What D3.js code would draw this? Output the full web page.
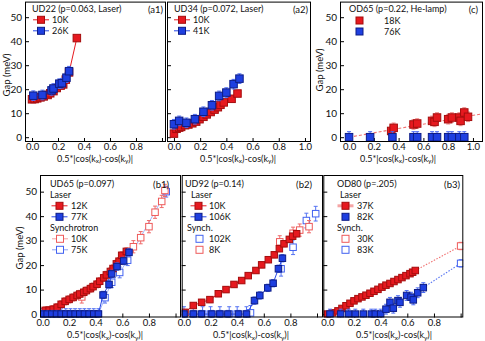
<!DOCTYPE html>
<html>
<head>
<meta charset="utf-8">
<script src="https://cdn.jsdelivr.net/npm/d3@7"></script>
<style>
  body { margin: 0; background: #fff; }
  svg text { font-family: Lato, "Open Sans", sans-serif; fill: #111; }
</style>
</head>
<body>
<svg id="fig" width="485" height="341"></svg>
<script>
// ---- data (gap in meV vs 0.5*|cos kx - cos ky|) ------------------------------
// (a1) UD22
const a1_10K_x = [0.0, 0.02, 0.04, 0.065, 0.09, 0.12, 0.14, 0.165, 0.19, 0.22, 0.24, 0.26, 0.285, 0.345];
const a1_10K_y = [15.8, 15.9, 16.2, 16.6, 17.0, 17.6, 18.3, 19.2, 20.5, 21.5, 22.0, 24.0, 27.0, 41.3];
const a1_26K_x = [0.01, 0.08, 0.15, 0.165, 0.21, 0.23, 0.265, 0.285];
const a1_26K_y = [17.3, 17.6, 19.5, 20.3, 22.3, 22.5, 24.8, 27.5];
// (a2) UD34
const a2_10K_x = [0.0, 0.02, 0.04, 0.055, 0.085, 0.11, 0.14, 0.17, 0.195, 0.225, 0.25, 0.28, 0.31, 0.335, 0.355, 0.38, 0.44, 0.485];
const a2_10K_y = [1.5, 3.5, 4.0, 4.3, 5.0, 5.3, 5.8, 6.5, 7.5, 8.5, 9.5, 10.5, 11.5, 12.5, 13.5, 14.5, 16.0, 18.2];
const a2_41K_x = [0.0, 0.04, 0.095, 0.16, 0.225, 0.29, 0.345, 0.40, 0.455, 0.50];
const a2_41K_y = [5.4, 6.8, 6.0, 7.5, 10.6, 13.3, 17.2, 18.6, 22.1, 24.4];
// (c) OD65
const c_18K_x = [0.34, 0.36, 0.52, 0.55, 0.67, 0.69, 0.71, 0.80, 0.83, 0.89, 0.90, 0.93, 0.96];
const c_18K_y = [2.6, 3.9, 5.3, 5.7, 6.8, 6.4, 8.2, 7.5, 8.2, 8.2, 6.8, 10.3, 8.5];
const c_76K_x = [0.0, 0.17, 0.35, 0.52, 0.55, 0.67, 0.71, 0.80, 0.83, 0.89, 0.93];
const c_76K_y = [0, 0, 0, 0, 0, 0, 0, 0, 0, 0, 0];
const c_fit_x = [0.0, 1.08];
const c_fit_y = [0.0, 9.8];
// (b1) UD65
const b1_12K_x = [0.02, 0.05, 0.08, 0.11, 0.14, 0.17, 0.2, 0.23, 0.26, 0.28, 0.31, 0.33, 0.36, 0.38, 0.41, 0.43, 0.46, 0.48, 0.51, 0.53, 0.555, 0.575, 0.595, 0.63];
const b1_12K_y = [1.5, 1.6, 2.0, 2.8, 4.0, 5.2, 6.0, 6.8, 7.6, 8.2, 8.9, 9.6, 10.4, 11.2, 12.2, 13.4, 14.8, 16.0, 17.4, 18.6, 20.5, 21.6, 24.0, 25.6];
const b1_77K_x = [0.0, 0.035, 0.07, 0.105, 0.14, 0.175, 0.21, 0.245, 0.28, 0.315, 0.35, 0.385, 0.42, 0.455, 0.50, 0.52, 0.56, 0.61, 0.65];
const b1_77K_y = [0, 0, 0, 0, 0, 0, 0, 0, 0, 0, 0, 0, 0, 7.8, 12.1, 16.4, 19.4, 21.7, 25.2];
const b1_10K_x = [0.295, 0.683, 0.738, 0.80, 0.846, 0.896, 0.92];
const b1_10K_y = [7.0, 27.5, 31.2, 35.7, 41.6, 46.0, 50.5];
const b1_75K_x = [0.0, 0.035, 0.07, 0.105, 0.14, 0.175, 0.21, 0.245, 0.28, 0.315, 0.35, 0.385, 0.42, 0.47, 0.52, 0.58, 0.64, 0.93];
const b1_75K_y = [0, 0, 0, 0, 0, 0, 0, 0, 0, 0, 0, 0, 0, 6.7, 13.0, 17.0, 22.0, 50.0];
// (b2) UD92
const b2_10K_x = [0.008, 0.07, 0.133, 0.195, 0.258, 0.316, 0.376, 0.434, 0.483, 0.541, 0.584, 0.634, 0.679, 0.717, 0.752, 0.792, 0.817, 0.847];
const b2_10K_y = [0.7, 3.5, 4.8, 5.9, 8.3, 10.0, 12.1, 13.7, 15.7, 17.8, 20.1, 22.2, 24.2, 26.7, 28.7, 30.5, 31.8, 32.8];
const b2_106K_x = [0.0, 0.07, 0.13, 0.21, 0.27, 0.33, 0.41, 0.47, 0.53, 0.57, 0.63, 0.67, 0.71, 0.74];
const b2_106K_y = [0, 0, 0, 0, 0, 0, 0, 0, 5.5, 7.6, 10.7, 12.6, 18.5, 22.8];
const b2_102K_x = [0.0, 0.07, 0.14, 0.2, 0.27, 0.34, 0.4, 0.47, 0.5, 0.73, 0.82, 0.92, 0.99];
const b2_102K_y = [0, 0, 0, 0, 0, 0, 0, 0, 0.5, 18.5, 27.3, 38.2, 41.0];
const b2_8K_x = [0.72, 0.82, 0.87, 0.94];
const b2_8K_y = [29.5, 33.0, 34.3, 35.7];
// (b3) OD80
const b3_37K_x = [0.0, 0.04, 0.08, 0.11, 0.14, 0.17, 0.2, 0.23, 0.26, 0.29, 0.32, 0.35, 0.38, 0.41, 0.44, 0.47, 0.5, 0.53, 0.56, 0.59, 0.62, 0.64, 0.66];
const b3_37K_y = [0.0, 0.5, 1.3, 2.3, 3.4, 4.4, 5.4, 6.3, 7.0, 7.7, 8.5, 9.3, 10.1, 11.0, 11.8, 12.5, 13.3, 14.1, 14.9, 15.7, 16.5, 17.1, 17.8];
const b3_82K_x = [0.02, 0.1, 0.16, 0.21, 0.27, 0.33, 0.36, 0.40, 0.44, 0.47, 0.495, 0.53, 0.545, 0.595, 0.628, 0.645, 0.678, 0.72];
const b3_82K_y = [0, 0, 0, 0, 0, 0, 0, 0, 2.0, 4.8, 2.4, 5.5, 4.8, 7.6, 6.9, 5.8, 8.7, 10.8];
const b3_30K_x = [1.0];
const b3_30K_y = [27.8];
const b3_83K_x = [1.0];
const b3_83K_y = [20.7];

const xTicks = [0, 0.2, 0.4, 0.6, 0.8, 1.0];
const yTicks = [0, 10, 20, 30, 40, 50];

// ---- styles ------------------------------------------------------------------
const STY = {
  redF:  { fill: '#e6191f', stroke: '#a50d0d', err: '#f08585', line: '#e6191f' },
  blueF: { fill: '#1e3fe0', stroke: '#0d1c86', err: '#4a69f2', line: '#2748e6' },
  redO:  { fill: '#fff', stroke: '#ee5a5a', err: '#ee6a6a', line: '#f4a0a0' },
  blueO: { fill: '#fff', stroke: '#4262f0', err: '#5573f2', line: '#8aa0f6' }
};
const LEG_FS = 9;

const svg = d3.select('#fig');
const fmt = d3.format('.1f');
let clipN = 0;

// axis title with subscripts, one text element
function xTitle(g, cx, y) {
  const t = g.append('text').attr('x', cx).attr('y', y).attr('text-anchor', 'middle').attr('font-size', 9);
  t.append('tspan').text('0.5*|cos(k');
  t.append('tspan').attr('font-size', 6.5).attr('dy', 1.5).text('x');
  t.append('tspan').attr('dy', -1.5).text(')-cos(k');
  t.append('tspan').attr('font-size', 6.5).attr('dy', 1.5).text('y');
  t.append('tspan').attr('dy', -1.5).text(')|');
}

function drawPanel(p) {
  const g = svg.append('g');
  const x = d3.scaleLinear().domain(p.xDom).range(p.xRange);
  const y = d3.scaleLinear().domain(p.yDom).range(p.yRange);
  const [L, R] = p.xRange, [B, T] = p.yRange;
  g.append('rect').attr('x', L).attr('y', T).attr('width', R - L).attr('height', B - T).attr('fill', '#fff');

  const id = 'clip' + (clipN++);
  g.append('clipPath').attr('id', id).append('rect')
    .attr('x', L).attr('y', T).attr('width', R - L).attr('height', B - T);

  // axes
  const ax = g.append('g').attr('transform', `translate(0,${B})`)
    .call(d3.axisBottom(x).tickValues(xTicks).tickSizeInner(-4).tickSizeOuter(0).tickPadding(p.xPad)
      .tickFormat(d => d <= p.xLabMax + 1e-9 ? fmt(d) : ''));
  ax.select('.domain').remove();
  ax.attr('font-family', null).attr('font-size', 9.5);
  const ay = g.append('g').attr('transform', `translate(${L},0)`)
    .call(d3.axisLeft(y).tickValues(yTicks).tickSizeInner(-4).tickSizeOuter(0).tickPadding(3)
      .tickFormat(d => p.yLabels ? d : ''));
  ay.select('.domain').remove();
  ay.attr('font-family', null).attr('font-size', 10);

  const plot = g.append('g').attr('clip-path', `url(#${id})`);

  (p.fits || []).forEach(f => {
    plot.append('path')
      .attr('d', d3.line().x(d => x(d[0])).y(d => y(d[1]))(d3.zip(f.x, f.y)))
      .attr('fill', 'none').attr('stroke', f.color).attr('stroke-width', 1.1)
      .attr('stroke-dasharray', f.dash);
  });

  p.series.forEach(s => {
    const st = STY[s.style];
    const pts = d3.zip(s.x, s.y);
    if (s.line) {
      plot.append('path')
        .attr('d', d3.line().x(d => x(d[0])).y(d => y(d[1]))(pts))
        .attr('fill', 'none').attr('stroke', s.lineColor || st.line)
        .attr('stroke-width', s.lineWidth || 1).attr('opacity', s.lineOpacity || 1);
    }
    const eg = plot.append('g').attr('stroke', st.err).attr('stroke-width', 1);
    pts.forEach(d => {
      const px = x(d[0]), y0 = y(d[1] - s.err), y1 = y(d[1] + s.err);
      eg.append('line').attr('x1', px).attr('x2', px).attr('y1', y0).attr('y2', y1);
      eg.append('line').attr('x1', px - 2).attr('x2', px + 2).attr('y1', y0).attr('y2', y0);
      eg.append('line').attr('x1', px - 2).attr('x2', px + 2).attr('y1', y1).attr('y2', y1);
    });
    const m = s.size;
    plot.append('g').selectAll('rect').data(pts).join('rect')
      .attr('x', d => x(d[0]) - m / 2).attr('y', d => y(d[1]) - m / 2)
      .attr('width', m).attr('height', m)
      .attr('fill', st.fill).attr('stroke', st.stroke).attr('stroke-width', 1);
  });

  // frame
  g.append('rect').attr('x', L + 0.5).attr('y', T + 0.5).attr('width', R - L - 1).attr('height', B - T - 1)
    .attr('fill', 'none').attr('stroke', '#000').attr('stroke-width', 1);

  // texts
  xTitle(g, p.titleX, p.titleY);
  if (p.yTitle) {
    g.append('text').attr('transform', `translate(${p.yTitle[0]},${p.yTitle[1]}) rotate(-90)`)
      .attr('text-anchor', 'middle').attr('font-size', 9.5).text('Gap (meV)');
  }
  g.append('text').attr('x', p.tag[1]).attr('y', p.tag[2]).attr('text-anchor', 'end')
    .attr('font-size', 9.5).text(p.tag[0]);
  p.legend.forEach(it => {
    g.append('text').attr('x', it.tx).attr('y', it.ty).attr('font-size', LEG_FS).text(it.text);
    if (it.style) {
      const st = STY[it.style];
      if (it.line) {
        g.append('line').attr('x1', it.mx - 8).attr('x2', it.mx + 8).attr('y1', it.my).attr('y2', it.my)
          .attr('stroke', it.lineColor || st.line).attr('stroke-width', it.lineWidth || 1);
      }
      g.append('rect').attr('x', it.mx - 3.5).attr('y', it.my - 3.5).attr('width', 7).attr('height', 7)
        .attr('fill', st.fill).attr('stroke', st.stroke).attr('stroke-width', 1);
    }
  });
}

const topY = { yDom: [-2, 56.5], yRange: [142, 1.6] };
const botY = { yDom: [-1.4, 56.8], yRange: [317.5, 175] };

// ---- top row -----------------------------------------------------------------
drawPanel({
  ...topY, xDom: [-0.054, 1.031], xRange: [25, 166], xPad: 1, xLabMax: 0.8, yLabels: true,
  titleX: 95, titleY: 161.5, yTitle: [10, 75], tag: ['(a1)', 163, 12.5],
  series: [
    { x: a1_10K_x, y: a1_10K_y, style: 'redF', line: true, err: 1.0, size: 7.5 },
    { x: a1_26K_x, y: a1_26K_y, style: 'blueF', line: true, err: 2.0, size: 7.5 }
  ],
  legend: [
    { text: 'UD22 (p=0.063, Laser)', tx: 32, ty: 12 },
    { text: '10K', tx: 52, ty: 23, style: 'redF', mx: 41, my: 19.8, line: true },
    { text: '26K', tx: 52, ty: 34, style: 'blueF', mx: 41, my: 30.8, line: true }
  ]
});
drawPanel({
  ...topY, xDom: [-0.053, 1.046], xRange: [167, 311], xPad: 1, xLabMax: 1.0, yLabels: false,
  titleX: 238, titleY: 161.5, tag: ['(a2)', 308, 12.5],
  series: [
    { x: a2_10K_x, y: a2_10K_y, style: 'redF', line: true, err: 1.2, size: 7.5 },
    { x: a2_41K_x, y: a2_41K_y, style: 'blueF', line: true, err: 2.0, size: 7.5 }
  ],
  legend: [
    { text: 'UD34 (p=0.072, Laser)', tx: 174, ty: 12 },
    { text: '10K', tx: 193, ty: 23, style: 'redF', mx: 182, my: 19.8, line: true },
    { text: '41K', tx: 193, ty: 34, style: 'blueF', mx: 182, my: 30.8, line: true }
  ]
});
drawPanel({
  ...topY, xDom: [-0.073, 1.081], xRange: [340, 483], xPad: 1, xLabMax: 1.0, yLabels: true,
  titleX: 398, titleY: 161.5, yTitle: [323, 70], tag: ['(c)', 478, 12.5],
  fits: [{ x: c_fit_x, y: c_fit_y, color: '#f07070', dash: '3,2' }],
  series: [
    { x: c_18K_x, y: c_18K_y, style: 'redF', line: false, err: 2.0, size: 7.5 },
    { x: c_76K_x, y: c_76K_y, style: 'blueF', line: false, err: 2.3, size: 7.5 }
  ],
  legend: [
    { text: 'OD65 (p=0.22, He-lamp)', tx: 349, ty: 12 },
    { text: '18K', tx: 384, ty: 23.5, style: 'redF', mx: 359.5, my: 20.5 },
    { text: '76K', tx: 384, ty: 34.5, style: 'blueF', mx: 359.5, my: 31.5 }
  ]
});

// ---- bottom row --------------------------------------------------------------
drawPanel({
  ...botY, xDom: [-0.019, 1.041], xRange: [40, 181], xPad: 2, xLabMax: 0.8, yLabels: true,
  titleX: 105, titleY: 338, yTitle: [23, 248], tag: ['(b1)', 169, 187.5],
  series: [
    { x: b1_75K_x, y: b1_75K_y, style: 'blueO', line: true, lineOpacity: 0.8, err: 2.2, size: 6.5 },
    { x: b1_10K_x, y: b1_10K_y, style: 'redO', line: false, err: 2.5, size: 6.5 },
    { x: b1_12K_x, y: b1_12K_y, style: 'redF', line: true, err: 1.5, size: 6.5 },
    { x: b1_77K_x, y: b1_77K_y, style: 'blueF', line: true, err: 1.5, size: 6.5 }
  ],
  legend: [
    { text: 'UD65 (p=0.097)', tx: 50, ty: 187 },
    { text: 'Laser', tx: 50, ty: 198 },
    { text: '12K', tx: 71, ty: 209, style: 'redF', mx: 59.5, my: 205.8, line: true },
    { text: '77K', tx: 71, ty: 220, style: 'blueF', mx: 59.5, my: 216.8, line: true },
    { text: 'Synchrotron', tx: 50, ty: 231 },
    { text: '10K', tx: 71, ty: 242, style: 'redO', mx: 60, my: 238.8, line: true },
    { text: '75K', tx: 71, ty: 253, style: 'blueO', mx: 60, my: 249.8, line: true }
  ]
});
drawPanel({
  ...botY, xDom: [-0.017, 1.045], xRange: [181.7, 323], xPad: 2, xLabMax: 0.8, yLabels: false,
  titleX: 251, titleY: 338, tag: ['(b2)', 312, 187.5],
  series: [
    { x: b2_102K_x, y: b2_102K_y, style: 'blueO', line: false, err: 3.0, size: 6.5 },
    { x: b2_8K_x, y: b2_8K_y, style: 'redO', line: false, err: 2.5, size: 6.5 },
    { x: b2_10K_x, y: b2_10K_y, style: 'redF', line: true, err: 1.2, size: 6.5 },
    { x: b2_106K_x, y: b2_106K_y, style: 'blueF', line: true, err: 1.5, size: 6.5 }
  ],
  legend: [
    { text: 'UD92 (p=0.14)', tx: 185, ty: 187 },
    { text: 'Laser', tx: 191, ty: 198 },
    { text: '10K', tx: 209, ty: 209, style: 'redF', mx: 198.5, my: 205.8, line: true },
    { text: '106K', tx: 209, ty: 220, style: 'blueF', mx: 198.5, my: 216.8, line: true },
    { text: 'Synch.', tx: 187, ty: 231 },
    { text: '102K', tx: 209, ty: 242, style: 'blueO', mx: 199.5, my: 238.8 },
    { text: '8K', tx: 209, ty: 253, style: 'redO', mx: 199.5, my: 249.8 }
  ]
});
drawPanel({
  ...botY, xDom: [-0.03, 1.02], xRange: [323.3, 463.3], xPad: 2, xLabMax: 0.8, yLabels: false,
  titleX: 394, titleY: 338, tag: ['(b3)', 460, 187.5],
  fits: [
    { x: [b3_37K_x[b3_37K_x.length - 1], b3_30K_x[0]], y: [b3_37K_y[b3_37K_y.length - 1], b3_30K_y[0]], color: '#f07070', dash: '1.5,1.5' },
    { x: [b3_82K_x[b3_82K_x.length - 1], b3_83K_x[0]], y: [b3_82K_y[b3_82K_y.length - 1], b3_83K_y[0]], color: '#5573f2', dash: '1.5,1.5' }
  ],
  series: [
    { x: b3_37K_x, y: b3_37K_y, style: 'redF', line: true, lineColor: '#f5a5a5', lineWidth: 3, err: 1.0, size: 6.5 },
    { x: b3_82K_x, y: b3_82K_y, style: 'blueF', line: false, err: 2.0, size: 6.5 },
    { x: b3_30K_x, y: b3_30K_y, style: 'redO', line: false, err: 1.5, size: 6.5 },
    { x: b3_83K_x, y: b3_83K_y, style: 'blueO', line: false, err: 1.5, size: 6.5 }
  ],
  legend: [
    { text: 'OD80 (p=.205)', tx: 337, ty: 187 },
    { text: 'Laser', tx: 340, ty: 198 },
    { text: '37K', tx: 357, ty: 209, style: 'redF', mx: 345.5, my: 205.8, line: true, lineColor: '#f5a5a5', lineWidth: 3 },
    { text: '82K', tx: 357, ty: 220, style: 'blueF', mx: 345.5, my: 216.8 },
    { text: 'Synch.', tx: 337, ty: 231 },
    { text: '30K', tx: 357, ty: 242, style: 'redO', mx: 345.5, my: 238.8 },
    { text: '83K', tx: 357, ty: 253, style: 'blueO', mx: 345.5, my: 249.8 }
  ]
});
</script>
</body>
</html>
